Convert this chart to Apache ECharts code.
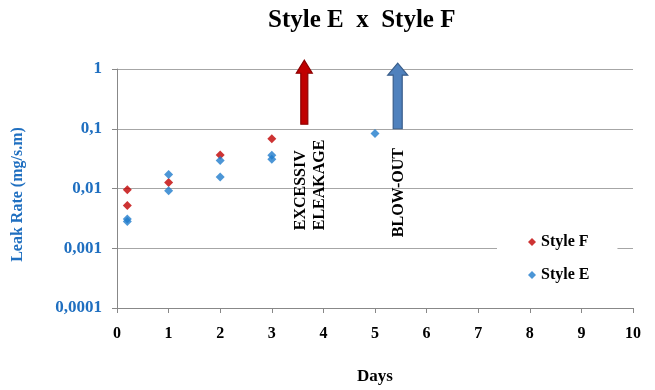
<!DOCTYPE html>
<html><head><meta charset="utf-8">
<script src="https://cdn.jsdelivr.net/npm/echarts@6/dist/echarts.min.js"></script>
<style>html,body{margin:0;padding:0;background:#fff}#c{width:655px;height:390px}</style>
</head><body><div id="c"></div>
<script>
var xTicks = [0,1,2,3,4,5,6,7,8,9,10];
var yTicks = [0.0001, 0.001, 0.01, 0.1, 1];
var styleF = [[0.2,0.0095],[0.2,0.0052],[1,0.0126],[2,0.0365],[3,0.068]];
var styleE = [[0.2,0.0031],[0.2,0.0028],[1,0.0172],[1,0.0092],[2,0.0294],[2,0.0156],[3,0.036],[3,0.031],[5,0.083]];
// arrows: [day, bottom value, top value]
var arrowRed = [[3.63, 0.119, 1.4]];
var arrowBlue = [[5.44, 0.1, 1.25]];
// annotations: [day, bottom value, text]
var notes = [[3.56, 0.002, 'EXCESSIV'],[3.93, 0.002, 'ELEAKAGE'],[5.47, 0.00153, 'BLOW-OUT']];

var serif = '"Liberation Serif","Times New Roman",serif';
function fmt(v){
  var e = Math.round(Math.log10(v));
  if (e >= 0) return String(Math.pow(10,e));
  return ('0.' + '0'.repeat(-e-1) + '1').replace('.', ',');
}
function arrowItem(fill, stroke, shaftW, headW, headH){
  return function(params, api){
    var b = api.coord([api.value(0), api.value(1)]);
    var t = api.coord([api.value(0), api.value(2)]);
    var x = b[0], hs = shaftW/2, hh = headW/2;
    return {type:'polygon', shape:{points:[
      [x-hs,b[1]],[x+hs,b[1]],[x+hs,t[1]+headH],[x+hh,t[1]+headH],[x,t[1]],[x-hh,t[1]+headH],[x-hs,t[1]+headH]
    ]}, style:{fill:fill, stroke:stroke, lineWidth:1.2}};
  };
}
var chart = echarts.init(document.getElementById('c'), null, {renderer:'canvas'});
chart.setOption({
  backgroundColor:'#fff',
  animation:false,
  title:{text:'Style E  x  Style F', left:263, top:3,
    textStyle:{fontFamily:serif, fontWeight:'bold', fontSize:25, color:'#000'}},
  grid:{left:117, right:22, top:69, bottom:77},
  legend:{orient:'vertical', left:497, top:226, backgroundColor:'#fff',
    padding:[8,28,8,31], itemGap:17, itemWidth:8, itemHeight:8,
    data:[{name:'Style F', icon:'diamond'},{name:'Style E', icon:'diamond'}],
    textStyle:{fontFamily:serif, fontWeight:'bold', fontSize:16, color:'#000'}},
  xAxis:{type:'value', min:0, max:10, interval:1, name:'Days', nameLocation:'middle', nameGap:60,
    nameTextStyle:{fontFamily:serif, fontWeight:'bold', fontSize:17, color:'#000'},
    axisLine:{lineStyle:{color:'#888'}}, axisTick:{show:true, length:5, lineStyle:{color:'#888'}},
    splitLine:{show:false},
    axisLabel:{margin:18, fontFamily:serif, fontWeight:'bold', fontSize:16, color:'#000'}},
  yAxis:{type:'log', logBase:10, min:0.0001, max:1, name:'Leak Rate (mg/s.m)', nameLocation:'middle', nameGap:91,
    nameTextStyle:{fontFamily:serif, fontWeight:'bold', fontSize:16, color:'#1f6fc0', padding:[0,12,0,0]},
    axisLine:{show:true, lineStyle:{color:'#888'}}, axisTick:{show:true, length:5, lineStyle:{color:'#888'}},
    splitLine:{show:true, lineStyle:{color:'#a6a6a6'}},
    axisLabel:{margin:15, fontFamily:serif, fontWeight:'bold', fontSize:17, color:'#1f6fc0', formatter:fmt}},
  series:[
    {name:'Style F', type:'scatter', symbol:'diamond', symbolSize:9, itemStyle:{color:'#c00000'}, data:styleF, z:3},
    {name:'Style E', type:'scatter', symbol:'diamond', symbolSize:9, itemStyle:{color:'#1f7ccc'}, data:styleE, z:4},
    {type:'custom', renderItem:arrowItem('#c00000','#8b0000',7,16,13), data:arrowRed, clip:false, z:5, silent:true},
    {type:'custom', renderItem:arrowItem('#4f81bd','#385d8a',9,20,12), data:arrowBlue, clip:false, z:5, silent:true},
    {type:'custom', clip:false, silent:true, z:5, data:notes, renderItem:function(params, api){
      var p = api.coord([api.value(0), api.value(1)]);
      return {type:'text', x:p[0], y:p[1], rotation:Math.PI/2,
        style:{text:notes[params.dataIndex][2], align:'left', verticalAlign:'middle',
          font:'bold 16px ' + serif, fill:'#000'}};
    }}
  ]
});
</script></body></html>
